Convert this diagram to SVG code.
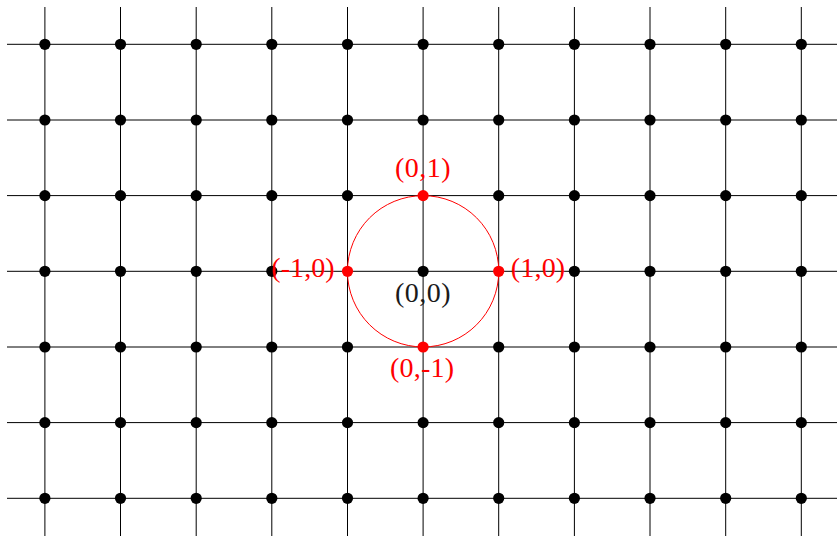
<svg xmlns="http://www.w3.org/2000/svg" width="839" height="537" viewBox="0 0 839 537">
<style>
.g line{stroke:#000;stroke-width:1}
.d{fill:#000}
.r{fill:#ff0000}
.t{font-family:"Liberation Serif","Times New Roman",serif;font-size:28px}
.rt{fill:#ff0000}
.bt{fill:#1a1a1a}
</style>
<rect width="839" height="537" fill="#fff"/>
<g id="connectors" class="g">
<line x1="44.9" y1="7" x2="44.9" y2="536"/>
<line x1="120.5" y1="7" x2="120.5" y2="536"/>
<line x1="196.2" y1="7" x2="196.2" y2="536"/>
<line x1="271.8" y1="7" x2="271.8" y2="536"/>
<line x1="347.5" y1="7" x2="347.5" y2="536"/>
<line x1="423.1" y1="7" x2="423.1" y2="536"/>
<line x1="498.7" y1="7" x2="498.7" y2="536"/>
<line x1="574.4" y1="7" x2="574.4" y2="536"/>
<line x1="650.0" y1="7" x2="650.0" y2="536"/>
<line x1="725.7" y1="7" x2="725.7" y2="536"/>
<line x1="801.3" y1="7" x2="801.3" y2="536"/>
<line x1="7" y1="44.3" x2="837" y2="44.3"/>
<line x1="7" y1="120.0" x2="837" y2="120.0"/>
<line x1="7" y1="195.6" x2="837" y2="195.6"/>
<line x1="7" y1="271.3" x2="837" y2="271.3"/>
<line x1="7" y1="347.0" x2="837" y2="347.0"/>
<line x1="7" y1="422.6" x2="837" y2="422.6"/>
<line x1="7" y1="498.3" x2="837" y2="498.3"/>
<circle cx="423.1" cy="271.3" r="75.65" fill="none" stroke="#ff0000" stroke-width="1"/>
</g>
<g id="dots">
<g id="row0">
<circle class="d" cx="44.9" cy="44.3" r="5.6"/><circle class="d" cx="120.5" cy="44.3" r="5.6"/><circle class="d" cx="196.2" cy="44.3" r="5.6"/><circle class="d" cx="271.8" cy="44.3" r="5.6"/><circle class="d" cx="347.5" cy="44.3" r="5.6"/><circle class="d" cx="423.1" cy="44.3" r="5.6"/><circle class="d" cx="498.7" cy="44.3" r="5.6"/><circle class="d" cx="574.4" cy="44.3" r="5.6"/><circle class="d" cx="650.0" cy="44.3" r="5.6"/><circle class="d" cx="725.7" cy="44.3" r="5.6"/><circle class="d" cx="801.3" cy="44.3" r="5.6"/>
</g>
<g id="row1">
<circle class="d" cx="44.9" cy="120.0" r="5.6"/><circle class="d" cx="120.5" cy="120.0" r="5.6"/><circle class="d" cx="196.2" cy="120.0" r="5.6"/><circle class="d" cx="271.8" cy="120.0" r="5.6"/><circle class="d" cx="347.5" cy="120.0" r="5.6"/><circle class="d" cx="423.1" cy="120.0" r="5.6"/><circle class="d" cx="498.7" cy="120.0" r="5.6"/><circle class="d" cx="574.4" cy="120.0" r="5.6"/><circle class="d" cx="650.0" cy="120.0" r="5.6"/><circle class="d" cx="725.7" cy="120.0" r="5.6"/><circle class="d" cx="801.3" cy="120.0" r="5.6"/>
</g>
<g id="row2">
<circle class="d" cx="44.9" cy="195.6" r="5.6"/><circle class="d" cx="120.5" cy="195.6" r="5.6"/><circle class="d" cx="196.2" cy="195.6" r="5.6"/><circle class="d" cx="271.8" cy="195.6" r="5.6"/><circle class="d" cx="347.5" cy="195.6" r="5.6"/><circle class="d" cx="498.7" cy="195.6" r="5.6"/><circle class="d" cx="574.4" cy="195.6" r="5.6"/><circle class="d" cx="650.0" cy="195.6" r="5.6"/><circle class="d" cx="725.7" cy="195.6" r="5.6"/><circle class="d" cx="801.3" cy="195.6" r="5.6"/>
</g>
<g id="row3">
<circle class="d" cx="44.9" cy="271.3" r="5.6"/><circle class="d" cx="120.5" cy="271.3" r="5.6"/><circle class="d" cx="196.2" cy="271.3" r="5.6"/><circle class="d" cx="271.8" cy="271.3" r="5.6"/><circle class="d" cx="423.1" cy="271.3" r="5.6"/><circle class="d" cx="574.4" cy="271.3" r="5.6"/><circle class="d" cx="650.0" cy="271.3" r="5.6"/><circle class="d" cx="725.7" cy="271.3" r="5.6"/><circle class="d" cx="801.3" cy="271.3" r="5.6"/>
</g>
<g id="row4">
<circle class="d" cx="44.9" cy="347.0" r="5.6"/><circle class="d" cx="120.5" cy="347.0" r="5.6"/><circle class="d" cx="196.2" cy="347.0" r="5.6"/><circle class="d" cx="271.8" cy="347.0" r="5.6"/><circle class="d" cx="347.5" cy="347.0" r="5.6"/><circle class="d" cx="498.7" cy="347.0" r="5.6"/><circle class="d" cx="574.4" cy="347.0" r="5.6"/><circle class="d" cx="650.0" cy="347.0" r="5.6"/><circle class="d" cx="725.7" cy="347.0" r="5.6"/><circle class="d" cx="801.3" cy="347.0" r="5.6"/>
</g>
<g id="row5">
<circle class="d" cx="44.9" cy="422.6" r="5.6"/><circle class="d" cx="120.5" cy="422.6" r="5.6"/><circle class="d" cx="196.2" cy="422.6" r="5.6"/><circle class="d" cx="271.8" cy="422.6" r="5.6"/><circle class="d" cx="347.5" cy="422.6" r="5.6"/><circle class="d" cx="423.1" cy="422.6" r="5.6"/><circle class="d" cx="498.7" cy="422.6" r="5.6"/><circle class="d" cx="574.4" cy="422.6" r="5.6"/><circle class="d" cx="650.0" cy="422.6" r="5.6"/><circle class="d" cx="725.7" cy="422.6" r="5.6"/><circle class="d" cx="801.3" cy="422.6" r="5.6"/>
</g>
<g id="row6">
<circle class="d" cx="44.9" cy="498.3" r="5.6"/><circle class="d" cx="120.5" cy="498.3" r="5.6"/><circle class="d" cx="196.2" cy="498.3" r="5.6"/><circle class="d" cx="271.8" cy="498.3" r="5.6"/><circle class="d" cx="347.5" cy="498.3" r="5.6"/><circle class="d" cx="423.1" cy="498.3" r="5.6"/><circle class="d" cx="498.7" cy="498.3" r="5.6"/><circle class="d" cx="574.4" cy="498.3" r="5.6"/><circle class="d" cx="650.0" cy="498.3" r="5.6"/><circle class="d" cx="725.7" cy="498.3" r="5.6"/><circle class="d" cx="801.3" cy="498.3" r="5.6"/>
</g>
</g>
<g id="p-top"><circle class="r" cx="423.1" cy="195.6" r="5.6"/><text class="t rt" x="395" y="177" textLength="55.5" lengthAdjust="spacing">(0,1)</text></g>
<g id="p-left"><circle class="r" cx="347.5" cy="271.3" r="5.6"/><text class="t rt" x="271.3" y="276.5" textLength="63.4" lengthAdjust="spacing">(-1,0)</text></g>
<g id="p-right"><circle class="r" cx="498.7" cy="271.3" r="5.6"/><text class="t rt" x="510.7" y="276.5" textLength="54.5" lengthAdjust="spacing">(1,0)</text></g>
<g id="p-bottom"><circle class="r" cx="423.1" cy="347.0" r="5.6"/><text class="t rt" x="390" y="377" textLength="64" lengthAdjust="spacing">(0,-1)</text></g>
<g id="p-origin"><text class="t bt" x="395" y="302" textLength="55.5" lengthAdjust="spacing">(0,0)</text></g>
</svg>
